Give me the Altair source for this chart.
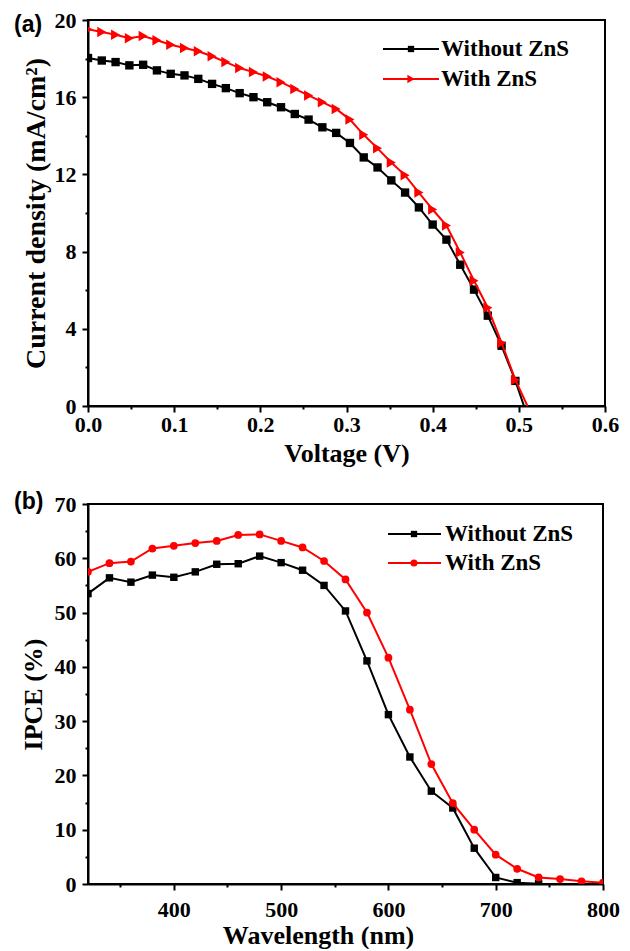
import altair as alt
import pandas as pd

series_names = ["Without ZnS", "With ZnS"]
series_colors = ["#000000", "#ff0000"]

# (a) J-V curves
v_without = [0.000, 0.016, 0.032, 0.048, 0.064, 0.080, 0.096, 0.112, 0.128, 0.144,
             0.160, 0.176, 0.192, 0.208, 0.224, 0.240, 0.256, 0.272, 0.288, 0.304,
             0.320, 0.336, 0.352, 0.368, 0.384, 0.400, 0.416, 0.432, 0.448, 0.464,
             0.480, 0.496, 0.506]
j_without = [18.03, 17.90, 17.82, 17.65, 17.68, 17.39, 17.21, 17.13, 16.95, 16.69,
             16.47, 16.21, 16.00, 15.74, 15.48, 15.13, 14.84, 14.44, 14.15, 13.63,
             12.88, 12.36, 11.69, 11.06, 10.29, 9.40, 8.62, 7.32, 6.03, 4.68,
             3.12, 1.30, 0.0]
v_with = [0.000, 0.016, 0.032, 0.048, 0.064, 0.080, 0.096, 0.112, 0.128, 0.144,
          0.160, 0.176, 0.192, 0.208, 0.224, 0.240, 0.256, 0.272, 0.288, 0.304,
          0.320, 0.336, 0.352, 0.368, 0.384, 0.400, 0.416, 0.432, 0.448, 0.464,
          0.480, 0.496, 0.510]
j_with = [19.52, 19.38, 19.24, 19.06, 19.17, 18.95, 18.72, 18.55, 18.38, 18.12,
          17.82, 17.51, 17.30, 17.07, 16.78, 16.43, 16.09, 15.74, 15.39, 14.84,
          14.05, 13.35, 12.62, 11.95, 11.06, 10.18, 9.35, 7.95, 6.49, 5.09,
          3.27, 1.35, 0.0]

# (b) IPCE spectra
wl_without = [320, 340, 360, 380, 400, 420, 440, 460, 480, 500, 520, 540, 560,
              580, 600, 620, 640, 660, 680, 700, 720, 740]
ipce_without = [53.5, 56.4, 55.6, 56.9, 56.5, 57.5, 58.9, 59.0, 60.4, 59.2, 57.8,
                55.0, 50.3, 41.1, 31.2, 23.4, 17.1, 14.0, 6.6, 1.2, 0.25, 0.05]
wl_with = [320, 340, 360, 380, 400, 420, 440, 460, 480, 500, 520, 540, 560,
           580, 600, 620, 640, 660, 680, 700, 720, 740, 760, 780, 800]
ipce_with = [57.5, 59.1, 59.4, 61.8, 62.3, 62.8, 63.2, 64.3, 64.4, 63.2, 62.0,
             59.5, 56.1, 50.0, 41.7, 32.1, 22.1, 14.9, 10.0, 5.4, 2.8, 1.2,
             0.9, 0.5, 0.25]

top_x_ticks = [0.0, 0.05, 0.1, 0.15, 0.2, 0.25, 0.3, 0.35, 0.4, 0.45, 0.5, 0.55, 0.6]
top_y_ticks = [0, 2, 4, 6, 8, 10, 12, 14, 16, 18, 20]
bot_x_ticks = [350, 400, 450, 500, 550, 600, 650, 700, 750, 800]
bot_y_ticks = [0, 5, 10, 15, 20, 25, 30, 35, 40, 45, 50, 55, 60, 65, 70]

SERIF = "Liberation Serif"
SANS = "Liberation Sans"


def make_axis(title, values, major_test, fmt, title_pad, label_pad, title_size, **kw):
    return alt.Axis(
        title=title,
        values=values,
        tickSize={"condition": {"test": major_test, "value": 6}, "value": 3},
        labelExpr=f"({major_test}) ? format(datum.value, '{fmt}') : ''",
        labelOverlap=False,
        labelFlush=False,
        titlePadding=title_pad,
        labelPadding=label_pad,
        titleFontSize=title_size,
        **kw,
    )


def legend_layers(name, color, shape, size, x0, x1, xm, xt, y):
    d = pd.DataFrame({"label": [name]})
    rule = alt.Chart(d).mark_rule(color=color, strokeWidth=2).encode(
        x=alt.value(x0), x2=alt.value(x1), y=alt.value(y))
    pt = alt.Chart(d).mark_point(shape=shape, filled=True, color=color, size=size,
                                 opacity=1).encode(x=alt.value(xm), y=alt.value(y))
    txt = alt.Chart(d).mark_text(align="left", baseline="middle", font=SERIF,
                                 fontWeight="bold", fontSize=23, color="black").encode(
        x=alt.value(xt), y=alt.value(y), text="label:N")
    return [rule, pt, txt]


def panel_label(text, y):
    d = pd.DataFrame({"t": [text]})
    return alt.Chart(d).mark_text(align="left", baseline="middle", font=SANS,
                                  fontWeight="bold", fontSize=23, color="black").encode(
        x=alt.value(-74), y=alt.value(y), text="t:N")


# ---- top panel ----
TW, TH = 517, 386
xa = alt.X("V:Q", scale=alt.Scale(domain=[0, 0.6], nice=False, zero=False),
           axis=make_axis("Voltage (V)", top_x_ticks,
                          "abs(datum.value*10 - round(datum.value*10)) < 0.001", ".1f",
                          5, 2, 26))
ya = alt.Y("J:Q", scale=alt.Scale(domain=[0, 20], nice=False, zero=False),
           axis=make_axis("Current density (mA/cm²)", top_y_ticks,
                          "datum.value % 4 == 0", "d", 4, 6, 28))

top_layers = []
top_shapes = ["square", "triangle-right"]
top_sizes = [70, 110]
for name, color, shape, size, vv, jj in zip(series_names, series_colors, top_shapes,
                                             top_sizes, [v_without, v_with], [j_without, j_with]):
    df = pd.DataFrame({"V": vv, "J": jj})
    top_layers.append(alt.Chart(df).mark_line(color=color, strokeWidth=2, clip=True).encode(x=xa, y=ya))
    top_layers.append(alt.Chart(df).transform_filter("datum.J > 0").mark_point(
        shape=shape, filled=True, color=color, size=size, opacity=1, clip=True).encode(x=xa, y=ya))

top_layers += legend_layers(series_names[0], series_colors[0], "square", 40, 295, 351, 323, 353, 29)
top_layers += legend_layers(series_names[1], series_colors[1], "triangle-right", 70, 295, 351, 323, 353, 59)
top_layers.append(panel_label("(a)", 5))
top = alt.layer(*top_layers).properties(width=TW, height=TH)

# ---- bottom panel ----
BW, BH = 515, 380
xb = alt.X("wl:Q", scale=alt.Scale(domain=[320, 800], nice=False, zero=False),
           axis=make_axis("Wavelength (nm)", bot_x_ticks, "datum.value % 100 == 0", "d",
                          2, 9, 26, titleX=230))
yb = alt.Y("ipce:Q", scale=alt.Scale(domain=[0, 70], nice=False, zero=False),
           axis=make_axis("IPCE (%)", bot_y_ticks, "datum.value % 10 == 0", "d", 8, 6, 26))

bot_layers = []
bot_shapes = ["square", "circle"]
bot_sizes = [55, 60]
for name, color, shape, size, ww, ii in zip(series_names, series_colors, bot_shapes,
                                             bot_sizes, [wl_without, wl_with], [ipce_without, ipce_with]):
    df = pd.DataFrame({"wl": ww, "ipce": ii})
    bot_layers.append(alt.Chart(df).mark_line(color=color, strokeWidth=2, clip=True).encode(x=xb, y=yb))
    bot_layers.append(alt.Chart(df).mark_point(
        shape=shape, filled=True, color=color, size=size, opacity=1, clip=True).encode(x=xb, y=yb))

bot_layers += legend_layers(series_names[0], series_colors[0], "square", 40, 300, 353, 326, 357, 30)
bot_layers += legend_layers(series_names[1], series_colors[1], "circle", 50, 300, 353, 326, 357, 59)
bot_layers.append(panel_label("(b)", -2))
bottom = alt.layer(*bot_layers).properties(width=BW, height=BH)

chart = alt.vconcat(top, bottom, spacing=23).properties(
    padding={"left": 5, "top": 0, "right": 0, "bottom": 0}
).configure_view(stroke="black", strokeWidth=2).configure_axis(
    grid=False,
    domainColor="black", domainWidth=2,
    tickColor="black", tickWidth=2,
    labelFont=SERIF, labelFontWeight="bold", labelFontSize=22, labelColor="black",
    titleFont=SERIF, titleFontWeight="bold", titleColor="black",
)

chart.save("out.html", embed_options={"renderer": "svg", "actions": False})
